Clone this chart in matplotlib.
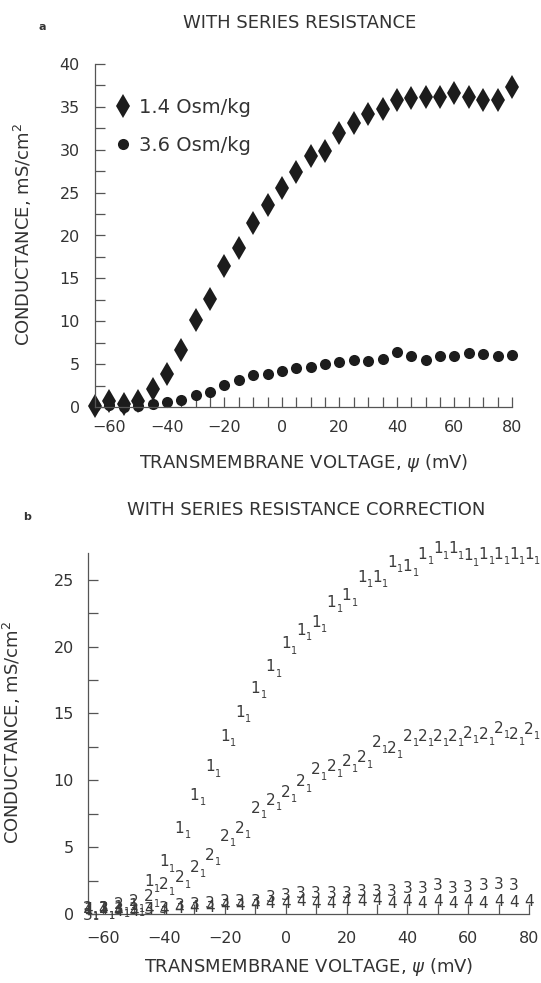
import numpy as np
import matplotlib
matplotlib.use("Agg")
from matplotlib import pyplot as plt

# transmembrane voltage, mV (same grid for both panels)
volt = [-65, -60, -55, -50, -45, -40, -35, -30, -25, -20, -15, -10, -5, 0, 5,
        10, 15, 20, 25, 30, 35, 40, 45, 50, 55, 60, 65, 70, 75, 80]

# panel a: with series resistance
g_14 = [0.1, 0.7, 0.4, 0.7, 2.1, 3.9, 6.6, 10.1, 12.6, 16.5, 18.6, 21.5, 23.6, 25.5, 27.4,
        29.3, 29.9, 32.0, 33.1, 34.2, 34.7, 35.8, 36.0, 36.1, 36.2, 36.6, 36.2, 35.8, 35.8, 37.3]
g_36 = [0.1, 0.2, 0.0, 0.1, 0.4, 0.6, 0.8, 1.4, 1.7, 2.6, 3.2, 3.7, 3.8, 4.2, 4.6,
        4.7, 5.0, 5.2, 5.5, 5.4, 5.6, 6.4, 6.0, 5.5, 5.9, 5.9, 6.3, 6.2, 5.9, 6.1]
legend_labels = ['1.4 Osm/kg', '3.6 Osm/kg']

# panel b: with series resistance correction, curves plotted as digits
s1 = [0.3, 0.4, 0.5, 0.6, 2.4, 3.9, 6.4, 8.9, 11.0, 13.3, 15.1, 16.9, 18.5, 20.2, 21.2,
      21.8, 23.3, 23.8, 25.2, 25.2, 26.3, 26.0, 26.9, 27.3, 27.3, 26.8, 26.9, 26.9, 26.9, 26.9]
s2 = [0.4, 0.4, 0.7, 0.9, 1.3, 2.2, 2.7, 3.5, 4.4, 5.8, 6.4, 7.9, 8.5, 9.1, 9.9,
      10.8, 11.0, 11.4, 11.7, 12.8, 12.4, 13.3, 13.3, 13.3, 13.3, 13.5, 13.4, 13.9, 13.4, 13.8]
s3 = [-0.1, 0.4, 0.3, 0.3, 0.3, 0.4, 0.6, 0.7, 0.8, 0.9, 0.9, 0.9, 1.2, 1.4, 1.5,
      1.5, 1.5, 1.5, 1.7, 1.7, 1.7, 1.9, 1.9, 2.1, 1.9, 2.0, 2.1, 2.2, 2.1, np.nan]
s4 = [0.3, 0.3, 0.2, 0.2, 0.3, 0.3, 0.4, 0.45, 0.5, 0.6, 0.6, 0.7, 0.8, 0.8, 0.9,
      0.8, 0.8, 0.9, 0.9, 1.0, 0.8, 0.9, 0.8, 0.9, 0.8, 0.9, 0.8, 0.9, 0.85, 0.9]
curves_b = [('1', s1, True), ('2', s2, True), ('3', s3, False), ('4', s4, False)]

TXT = '#333333'
INK = '#1c1c1c'
AX = '#555555'
W, H = 541, 983

plt.rcParams['font.family'] = ['DejaVu Sans']
plt.rcParams['axes.unicode_minus'] = True

fig = plt.figure(figsize=(W / 100, H / 100), dpi=100)


def px_axes(l, t, r, b):
    return fig.add_axes([l / W, 1 - b / H, (r - l) / W, (b - t) / H])


def style(ax):
    for s in ['top', 'right']:
        ax.spines[s].set_visible(False)
    for s in ['left', 'bottom']:
        ax.spines[s].set_color(AX)
        ax.spines[s].set_linewidth(0.9)
    ax.tick_params(which='both', direction='in', length=7, width=0.9, color=AX,
                   labelcolor=TXT, labelsize=11.5)


# ---- panel a
ax = px_axes(95, 64, 512, 407)
style(ax)
ax.plot(volt, g_14, 'd', ms=12, mew=0, color=INK, clip_on=False, label=legend_labels[0])
ax.plot(volt, g_36, 'o', ms=8, mew=0, color=INK, clip_on=False, label=legend_labels[1])
ax.set_xlim(-65, 80)
ax.set_ylim(0, 40)
ax.set_xticks([-60, -40, -20, 0, 20, 40, 60, 80])
ax.set_xticks(np.arange(-60, 81, 5), minor=True)
ax.set_yticks([0, 5, 10, 15, 20, 25, 30, 35, 40])
ax.set_yticks(np.arange(0, 40.1, 2.5), minor=True)
ax.tick_params(axis='x', which='both', pad=9.5)
ax.tick_params(axis='y', which='both', pad=11)
ax.legend(loc='upper left', bbox_to_anchor=(0.045, 0.9), frameon=False,
          fontsize=14, handlelength=1.0, handletextpad=0.3, labelspacing=0.95,
          borderpad=0, borderaxespad=0, labelcolor=TXT)

# ---- panel b
bx = px_axes(88, 553, 529, 914)
style(bx)
bx.set_xlim(-65, 80)
bx.set_ylim(0, 27)
bx.set_xticks([-60, -40, -20, 0, 20, 40, 60, 80])
bx.set_xticks(np.arange(-60, 81, 10), minor=True)
bx.set_yticks([0, 5, 10, 15, 20, 25])
bx.set_yticks(np.arange(0, 25.1, 2.5), minor=True)
bx.tick_params(axis='x', which='both', pad=12)
bx.tick_params(axis='y', which='both', pad=10)

for sym, vals, sub in curves_b:
    for x, y in zip(volt, vals):
        if np.isnan(y):
            continue
        bx.text(x, y, sym, ha='center', va='center', fontsize=11, color='#3a3a3a',
                clip_on=False)
        if sub:
            bx.annotate('1', xy=(x, y), xytext=(6, -5), textcoords='offset points',
                        ha='center', va='center', fontsize=7, color='#3a3a3a',
                        annotation_clip=False)

# ---- texts
def ftext(x, y, s, **kw):
    fig.text(x / W, 1 - y / H, s, ha='center', va='center', color=TXT, **kw)


ftext(300, 23, 'WITH SERIES RESISTANCE', fontsize=13)
ftext(306, 510, 'WITH SERIES RESISTANCE CORRECTION', fontsize=13)
ftext(42, 27, 'a', fontsize=8, fontweight='bold')
ftext(27, 517, 'b', fontsize=8, fontweight='bold')
ftext(304, 463, r'TRANSMEMBRANE VOLTAGE, $\psi$ (mV)', fontsize=13)
ftext(309, 967, r'TRANSMEMBRANE VOLTAGE, $\psi$ (mV)', fontsize=13)
ftext(23, 235, r'CONDUCTANCE, mS/cm$^2$', fontsize=13, rotation=90)
ftext(12, 733, r'CONDUCTANCE, mS/cm$^2$', fontsize=13, rotation=90)

fig.savefig('out.png', dpi=100)
